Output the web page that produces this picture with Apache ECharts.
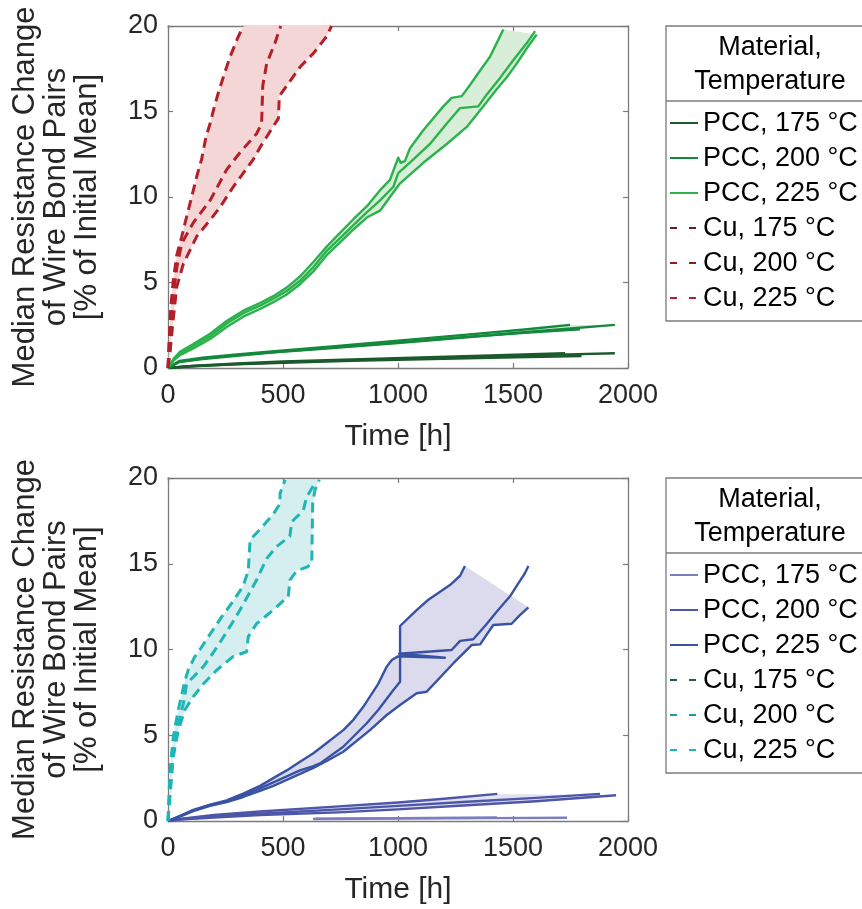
<!DOCTYPE html>
<html>
<head>
<meta charset="utf-8">
<script src="https://cdn.jsdelivr.net/npm/echarts/dist/echarts.min.js"></script>
<style>
  html, body { margin: 0; padding: 0; background: #fff; }
  #top { width: 862px; height: 452px; }
  #bottom { width: 862px; height: 457px; }
</style>
</head>
<body>
<div id="top"></div>
<div id="bottom"></div>
<script>
// ---- axes and legend text ----
const xTicks = [0, 500, 1000, 1500, 2000];
const yTicks = [0, 5, 10, 15, 20];
const xTitle = 'Time [h]';
const yTitle = 'Median Resistance Change\nof Wire Bond Pairs\n[% of Initial Mean]';
const legendHeader = ['Material,', 'Temperature'];
const legendNames = ['PCC, 175 °C', 'PCC, 200 °C', 'PCC, 225 °C', 'Cu, 175 °C', 'Cu, 200 °C', 'Cu, 225 °C'];

// ---- upper panel: [time h, median change %] ----
const topPcc175A = [[0,0],[100,0.12],[300,0.27],[500,0.38],[800,0.5],[1100,0.62],[1400,0.74],[1726,0.86]];
const topPcc175B = [[0,0],[100,0.1],[300,0.21],[500,0.31],[800,0.42],[1100,0.51],[1400,0.6],[1798,0.7]];
const topPcc175C = [[0,0],[100,0.1],[300,0.23],[500,0.33],[800,0.46],[1100,0.57],[1400,0.68],[1700,0.78],[1943,0.86]];

const topPcc200A = [[0,0],[50,0.42],[150,0.6],[300,0.8],[450,0.97],[700,1.25],[1000,1.6],[1300,1.95],[1550,2.25],[1748,2.52]];
const topPcc200B = [[0,0],[50,0.38],[150,0.55],[300,0.75],[450,0.92],[700,1.18],[1000,1.5],[1300,1.82],[1550,2.06],[1791,2.27]];
const topPcc200C = [[0,0],[50,0.35],[150,0.52],[300,0.72],[450,0.9],[700,1.15],[1000,1.46],[1300,1.8],[1600,2.15],[1943,2.52]];

const topPcc225A = [[0,0],[25,0.55],[52,0.95],[110,1.4],[183,2.0],[255,2.75],[327,3.35],[400,3.8],[458,4.2],[516,4.7],[574,5.35],[632,6.2],[690,7.1],[748,7.9],[806,8.7],[864,9.45],[922,10.4],[965,11.0],[987,11.8],[1001,12.3],[1012,12.0],[1030,12.1],[1052,12.85],[1110,13.9],[1197,15.3],[1233,15.8],[1277,15.9],[1313,16.55],[1357,17.4],[1400,18.2],[1429,19.0],[1458,19.8]];
const topPcc225B = [[0,0],[25,0.5],[52,0.85],[110,1.3],[183,1.85],[255,2.6],[327,3.2],[400,3.65],[458,4.05],[516,4.5],[574,5.1],[632,5.9],[690,6.85],[748,7.6],[806,8.35],[864,9.1],[922,9.8],[980,10.6],[1001,11.4],[1067,12.2],[1139,13.1],[1212,14.3],[1270,15.2],[1349,15.3],[1386,16.0],[1443,16.95],[1501,18.0],[1560,19.0],[1596,19.7]];
const topPcc225C = [[0,0],[25,0.45],[52,0.75],[110,1.15],[183,1.7],[255,2.4],[327,3.0],[400,3.45],[458,3.85],[516,4.3],[574,4.9],[632,5.65],[690,6.6],[748,7.35],[806,8.1],[864,8.8],[922,9.2],[965,10.0],[1009,10.8],[1110,12.0],[1212,13.1],[1299,14.1],[1371,15.3],[1429,16.3],[1473,17.0],[1516,17.8],[1560,18.7],[1603,19.5]];

const topCu225A = [[0,0],[5,1.5],[12,3.5],[22,5.0],[38,6.6],[60,7.7],[80,8.8],[103,10.0],[125,11.2],[146,12.2],[165,13.5],[183,14.3],[200,15.2],[219,16.1],[245,17.2],[270,18.2],[300,19.2],[327,20.0]];
const topCu225B = [[0,0],[8,2.0],[20,4.0],[40,6.0],[60,7.3],[110,8.5],[183,9.8],[255,11.6],[313,12.6],[385,13.7],[407,14.3],[412,16.5],[429,17.8],[465,19.0],[490,20.0]];
const topCu225C = [[0,0],[9,0.9],[20,2.5],[38,4.75],[67,6.1],[125,7.7],[183,8.65],[226,9.4],[284,10.6],[371,12.2],[400,12.9],[480,14.6],[484,15.9],[516,16.5],[574,17.6],[632,18.4],[690,19.4],[711,20.0]];

// ---- lower panel ----
const botPcc175A = [[630,0.12],[1000,0.15],[1400,0.17],[1735,0.19]];
const botPcc175B = [[640,0.14],[1000,0.17],[1430,0.2]];

const botPcc200A = [[0,0],[50,0.12],[200,0.35],[400,0.55],[743,0.85],[1000,1.08],[1200,1.3],[1432,1.58]];
const botPcc200B = [[0,0],[50,0.1],[200,0.25],[400,0.42],[743,0.68],[1000,0.88],[1300,1.12],[1600,1.35],[1878,1.58]];
const botPcc200C = [[0,0],[50,0.08],[200,0.2],[400,0.35],[743,0.5],[1000,0.68],[1300,0.92],[1600,1.15],[1948,1.5]];

const botPcc225A = [[0,0],[60,0.33],[110,0.62],[183,0.92],[255,1.15],[327,1.5],[400,1.9],[458,2.25],[516,2.6],[574,2.95],[632,3.2],[661,3.36],[762,4.33],[864,5.7],[914,6.47],[980,7.64],[1009,8.12],[1009,11.37],[1081,12.3],[1132,12.9],[1175,13.3],[1226,13.76],[1270,14.3],[1291,14.87]];
const botPcc225B = [[0,0],[60,0.35],[110,0.65],[183,0.95],[255,1.2],[327,1.6],[400,2.05],[458,2.5],[516,2.95],[574,3.45],[632,3.95],[690,4.55],[762,5.3],[806,5.9],[849,6.66],[914,8.0],[951,9.0],[973,9.39],[1000,9.6],[1204,9.52],[1005,9.75],[1233,9.97],[1270,10.5],[1327,10.6],[1380,11.4],[1429,12.2],[1487,13.1],[1523,13.86],[1550,14.4],[1567,14.87]];
const botPcc225C = [[0,0],[60,0.3],[110,0.58],[183,0.88],[255,1.1],[327,1.4],[400,1.75],[458,2.05],[516,2.4],[574,2.75],[632,3.1],[690,3.5],[762,4.04],[878,5.3],[951,6.18],[1009,6.76],[1081,7.45],[1125,7.54],[1241,9.2],[1320,10.26],[1357,10.3],[1414,11.43],[1494,11.5],[1530,12.0],[1567,12.46]];
// upper edge of the shaded 225 °C range
const botPcc225Upper = [[0,0],[60,0.35],[110,0.65],[183,0.95],[255,1.2],[327,1.6],[400,2.05],[458,2.5],[516,2.95],[574,3.45],[632,3.95],[690,4.55],[762,5.3],[806,5.9],[849,6.66],[914,8.0],[951,9.0],[973,9.39],[1000,9.6],[1009,9.7],[1009,11.37],[1081,12.3],[1132,12.9],[1175,13.3],[1226,13.76],[1270,14.3],[1291,14.87]];

const botCu225A = [[0,0],[6,0.1],[9,3.0],[23,4.9],[45,6.5],[74,8.2],[88,8.8],[117,9.6],[139,10.0],[183,10.9],[233,11.9],[277,12.7],[327,13.7],[349,14.6],[357,16.4],[400,17.0],[458,17.9],[487,18.5],[487,19.1],[509,19.9]];
const botCu225B = [[0,0],[6,0.1],[16,3.36],[38,5.3],[67,6.86],[81,8.0],[110,8.4],[154,9.0],[219,10.26],[277,11.5],[313,12.3],[385,14.05],[429,15.3],[472,16.0],[530,16.6],[538,17.45],[588,18.1],[603,18.9],[639,19.7]];
const botCu225C = [[0,0],[6,0.1],[23,3.75],[45,5.3],[74,6.5],[110,7.25],[154,8.0],[212,8.8],[284,9.6],[342,9.87],[349,10.75],[385,11.5],[458,12.3],[523,13.1],[530,14.05],[560,14.6],[603,14.8],[625,15.0],[629,18.5],[639,19.3],[658,19.9]];

const FONT = '"Liberation Sans", Arial, sans-serif';
const AXIS_GRAY = '#7b7b7b';
const GRID = { left: 168, top: 26, width: 460 };

function lineSeries(name, data, color, dashed) {
  return {
    type: 'line', name: name, data: data,
    xAxisIndex: 0, yAxisIndex: 0,
    symbol: 'none', showSymbol: false, smooth: false,
    z: 3, animation: false, silent: true,
    itemStyle: { color: color },
    lineStyle: dashed
      ? { color: color, width: 3, type: [10, 6], cap: 'butt' }
      : { color: color, width: 2.4, type: 'solid', join: 'round' }
  };
}

function bandSeries(upper, lower, fill) {
  const outline = upper.concat(lower.slice().reverse());
  return {
    type: 'custom', xAxisIndex: 0, yAxisIndex: 0, z: 1, silent: true, animation: false,
    data: [[0, 0]],
    renderItem: function (params, api) {
      return {
        type: 'polygon',
        shape: { points: outline.map(function (p) { return api.coord(p); }) },
        style: { fill: fill, stroke: null }
      };
    }
  };
}

function axisBase(extra) {
  return Object.assign({
    type: 'value',
    axisLine: { show: true, onZero: false, lineStyle: { color: AXIS_GRAY, width: 1.3 } },
    axisTick: { show: true, inside: true, length: 5, lineStyle: { color: AXIS_GRAY, width: 1.2 } },
    splitLine: { show: false }
  }, extra);
}

// boxed legend with a two-line header
function legendGraphics(colors) {
  const boxTop = 26, boxH = 295, sepY = 101, boxLeft = 666;
  const g = [
    { type: 'rect', silent: true, z: 10,
      shape: { x: boxLeft, y: boxTop, width: 230, height: boxH },
      style: { fill: 'none', stroke: AXIS_GRAY, lineWidth: 1.3 } },
    { type: 'line', silent: true, z: 10,
      shape: { x1: boxLeft, y1: sepY, x2: 862, y2: sepY },
      style: { stroke: AXIS_GRAY, lineWidth: 1.3 } },
    { type: 'text', silent: true, z: 10, x: 770, y: 48,
      style: { text: legendHeader[0], fill: '#000', font: '27px ' + FONT, align: 'center', verticalAlign: 'middle' } },
    { type: 'text', silent: true, z: 10, x: 770, y: 82,
      style: { text: legendHeader[1], fill: '#000', font: '27px ' + FONT, align: 'center', verticalAlign: 'middle' } }
  ];
  legendNames.forEach(function (n, i) {
    const y = 123 + 35 * i;
    const dashed = i >= 3;
    g.push({ type: 'line', silent: true, z: 10,
      shape: { x1: 670, y1: y, x2: 698, y2: y },
      style: { stroke: colors[i], lineWidth: 2, lineDash: dashed ? [7, 12] : null, lineCap: 'butt' } });
    g.push({ type: 'text', silent: true, z: 10, x: 703, y: y + 1,
      style: { text: n, fill: '#000', font: '27px ' + FONT, align: 'left', verticalAlign: 'middle' } });
  });
  return g;
}

function buildPanel(el, cfg) {
  const chart = echarts.init(el, null, { renderer: 'canvas' });
  const xMin = xTicks[0], xMax = xTicks[xTicks.length - 1], xStep = xTicks[1] - xTicks[0];
  const yMin = yTicks[0], yMax = yTicks[yTicks.length - 1], yStep = yTicks[1] - yTicks[0];
  const labelStyle = { color: '#262626', fontSize: 27, fontFamily: FONT, formatter: function (v) { return String(v); } };
  const series = [];
  cfg.bands.forEach(function (b) { series.push(bandSeries(b.upper, b.lower, b.fill)); });
  cfg.lines.forEach(function (l) { series.push(lineSeries(l.name, l.data, l.color, l.dashed)); });
  chart.setOption({
    animation: false,
    backgroundColor: '#fff',
    grid: {
      left: GRID.left, top: GRID.top, width: GRID.width, height: cfg.gridHeight,
      containLabel: false, outerBoundsMode: 'none'
    },
    xAxis: [
      axisBase({
        min: xMin, max: xMax, interval: xStep, position: 'bottom',
        axisLabel: Object.assign({ margin: 14 }, labelStyle),
        name: xTitle, nameLocation: 'middle', nameGap: 54,
        nameTextStyle: { color: '#262626', fontSize: 30, fontFamily: FONT }
      }),
      axisBase({ min: xMin, max: xMax, interval: xStep, position: 'top', axisLabel: { show: false } })
    ],
    yAxis: [
      axisBase({
        min: yMin, max: yMax, interval: yStep, position: 'left',
        axisLabel: Object.assign({ margin: 10 }, labelStyle),
        name: yTitle, nameLocation: 'middle', nameGap: 65, nameRotate: 90,
        nameTextStyle: { color: '#262626', fontSize: 31, lineHeight: 31, fontFamily: FONT, align: 'center' }
      }),
      axisBase({ min: yMin, max: yMax, interval: yStep, position: 'right', axisLabel: { show: false } })
    ],
    graphic: legendGraphics(cfg.legendColors),
    series: series
  });
  return chart;
}

// upper panel colours
const greenLegend = ['#1c5a2c', '#13893c', '#2bb24c', '#6a1b1b', '#8d1d1d', '#b3202a'];
buildPanel(document.getElementById('top'), {
  gridHeight: 342,
  legendColors: greenLegend,
  bands: [
    { upper: topCu225A, lower: topCu225C, fill: '#f5d6d7' },
    { upper: topPcc225A, lower: topPcc225C, fill: '#d8eed9' },
    { upper: topPcc200A, lower: topPcc200C, fill: '#d3ead8' },
    { upper: topPcc175A, lower: topPcc175C, fill: '#d2e2d6' }
  ],
  lines: [
    { name: 'PCC, 175 °C', data: topPcc175A, color: greenLegend[0] },
    { name: 'PCC, 175 °C', data: topPcc175B, color: greenLegend[0] },
    { name: 'PCC, 175 °C', data: topPcc175C, color: greenLegend[0] },
    { name: 'PCC, 200 °C', data: topPcc200A, color: greenLegend[1] },
    { name: 'PCC, 200 °C', data: topPcc200B, color: greenLegend[1] },
    { name: 'PCC, 200 °C', data: topPcc200C, color: greenLegend[1] },
    { name: 'PCC, 225 °C', data: topPcc225A, color: greenLegend[2] },
    { name: 'PCC, 225 °C', data: topPcc225B, color: greenLegend[2] },
    { name: 'PCC, 225 °C', data: topPcc225C, color: greenLegend[2] },
    { name: 'Cu, 225 °C', data: topCu225A, color: greenLegend[5], dashed: true },
    { name: 'Cu, 225 °C', data: topCu225B, color: greenLegend[5], dashed: true },
    { name: 'Cu, 225 °C', data: topCu225C, color: greenLegend[5], dashed: true }
  ]
});

// lower panel colours
const blueLegend = ['#7b7fc0', '#4d56a8', '#3953a4', '#1b5f5c', '#179c9a', '#20b5b5'];
buildPanel(document.getElementById('bottom'), {
  gridHeight: 343,
  legendColors: blueLegend,
  bands: [
    { upper: botCu225A, lower: botCu225C, fill: '#d5eef0' },
    { upper: botPcc225Upper, lower: botPcc225C, fill: '#dcdbed' },
    { upper: botPcc200A, lower: botPcc200C, fill: '#e2e2f1' }
  ],
  lines: [
    { name: 'PCC, 175 °C', data: botPcc175A, color: blueLegend[0] },
    { name: 'PCC, 175 °C', data: botPcc175B, color: blueLegend[0] },
    { name: 'PCC, 200 °C', data: botPcc200A, color: blueLegend[1] },
    { name: 'PCC, 200 °C', data: botPcc200B, color: blueLegend[1] },
    { name: 'PCC, 200 °C', data: botPcc200C, color: blueLegend[1] },
    { name: 'PCC, 225 °C', data: botPcc225A, color: blueLegend[2] },
    { name: 'PCC, 225 °C', data: botPcc225B, color: blueLegend[2] },
    { name: 'PCC, 225 °C', data: botPcc225C, color: blueLegend[2] },
    { name: 'Cu, 225 °C', data: botCu225A, color: blueLegend[5], dashed: true },
    { name: 'Cu, 225 °C', data: botCu225B, color: blueLegend[5], dashed: true },
    { name: 'Cu, 225 °C', data: botCu225C, color: blueLegend[5], dashed: true }
  ]
});
</script>
</body>
</html>
